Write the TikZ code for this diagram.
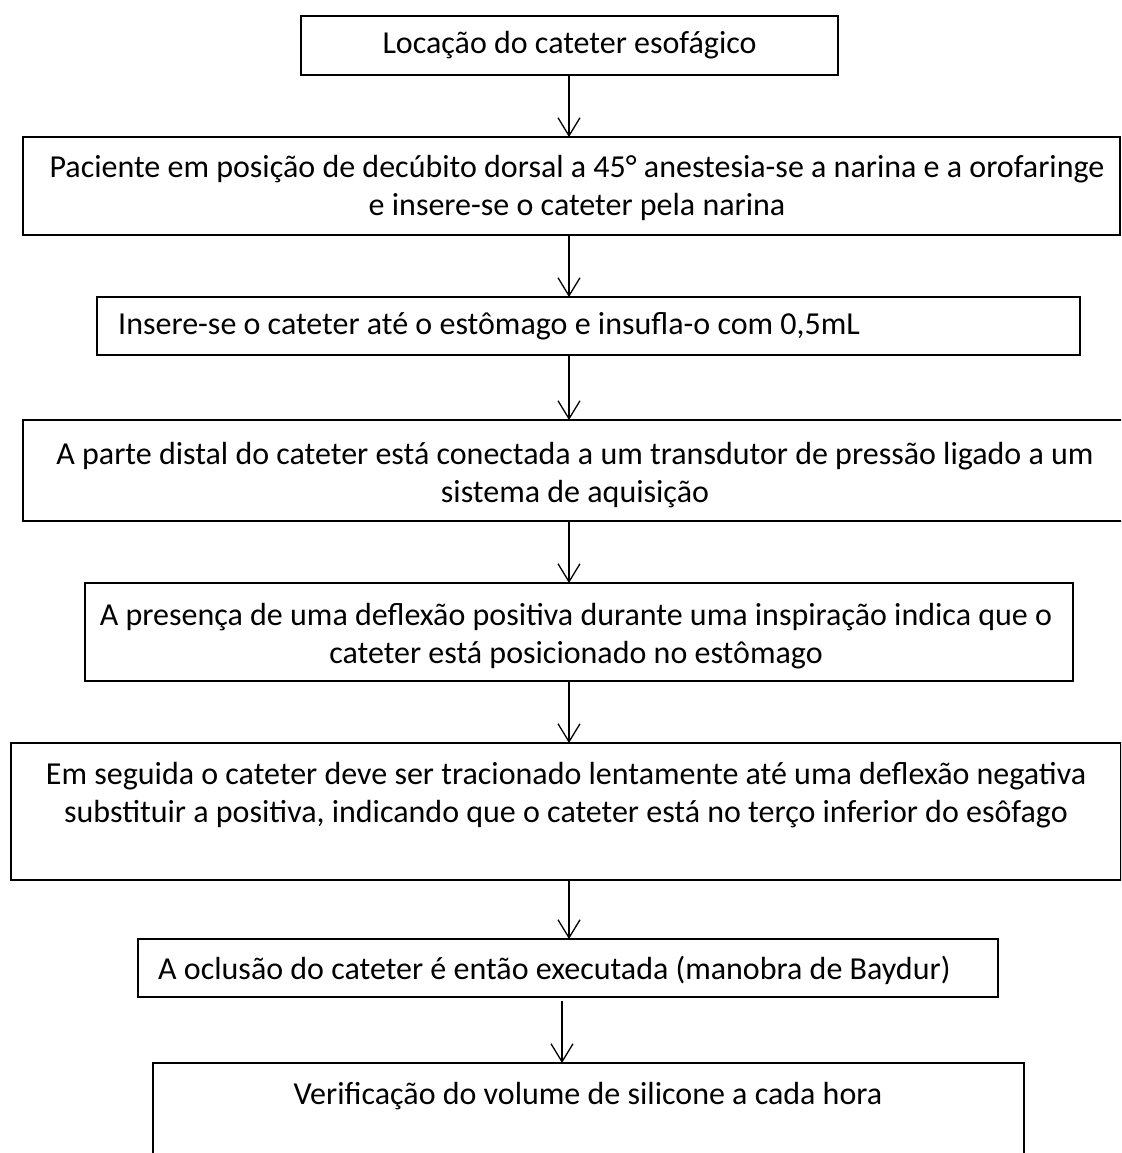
\documentclass[tikz,border=0pt]{standalone}
\usepackage{fontspec}
\setmainfont{Carlito}
\usetikzlibrary{arrows.meta}
\begin{document}
\begin{tikzpicture}[x=1pt,y=-1pt,
  stepbox/.style={draw, line width=1.8pt, rectangle, inner sep=0pt, outer sep=0pt, anchor=north west},
  steptext/.style={font=\fontsize{32}{38}\selectfont, inner sep=0pt, align=center},
  flow/.style={line width=1.3pt, -{Straight Barb[length=18pt,width=22pt,line width=1.3pt]}}]
\clip (0,0) rectangle (1121,1153);
% step boxes
\node[stepbox, minimum width=537pt, minimum height=59pt]  (b1) at (301,16) {};
\node[stepbox, minimum width=1097pt, minimum height=98pt] (b2) at (23,137) {};
\node[stepbox, minimum width=983pt, minimum height=58pt]  (b3) at (97,297) {};
\node[stepbox, minimum width=1110pt, minimum height=101pt] (b4) at (23,420) {};
\node[stepbox, minimum width=988pt, minimum height=98pt]  (b5) at (85,583) {};
\node[stepbox, minimum width=1110pt, minimum height=137pt] (b6) at (11,743) {};
\node[stepbox, minimum width=860pt, minimum height=58pt]  (b7) at (138,939) {};
\node[stepbox, minimum width=871pt, minimum height=140pt] (b8) at (153,1063) {};
% texts
\node[steptext] (t1) at (b1.center) {Locação do cateter esofágico};
\node[steptext] (t2) at (577,188) {Paciente em posição de decúbito dorsal a 45° anestesia-se a narina e a orofaringe\\e insere-se o cateter pela narina};
\node[steptext, anchor=west] (t3) at (118,326) {Insere-se o cateter até o estômago e insufla-o com 0,5mL};
\node[steptext] (t4) at (575,475) {A parte distal do cateter está conectada a um transdutor de pressão ligado a um\\sistema de aquisição};
\node[steptext] (t5) at (576,636) {A presença de uma deflexão positiva durante uma inspiração indica que o\\cateter está posicionado no estômago};
\node[steptext] (t6) at (566,795) {Em seguida o cateter deve ser tracionado lentamente até uma deflexão negativa\\substituir a positiva, indicando que o cateter está no terço inferior do esôfago};
\node[steptext, anchor=west] (t7) at (158,970) {A oclusão do cateter é então executada (manobra de Baydur)};
\node[steptext] (t8) at (588,1096) {Verificação do volume de silicone a cada hora};
% connectors
\coordinate (axis) at (569,0);
\coordinate (axislow) at (562,0);
\draw[flow] (axis |- b1.south) -- (axis |- b2.north);
\draw[flow] (axis |- b2.south) -- (axis |- b3.north);
\draw[flow] (axis |- b3.south) -- (axis |- b4.north);
\draw[flow] (axis |- b4.south) -- (axis |- b5.north);
\draw[flow] (axis |- b5.south) -- (axis |- b6.north);
\draw[flow] (axis |- b6.south) -- (axis |- b7.north);
\draw[flow, shorten <=4pt] (axislow |- b7.south) -- (axislow |- b8.north);
\end{tikzpicture}
\end{document}
